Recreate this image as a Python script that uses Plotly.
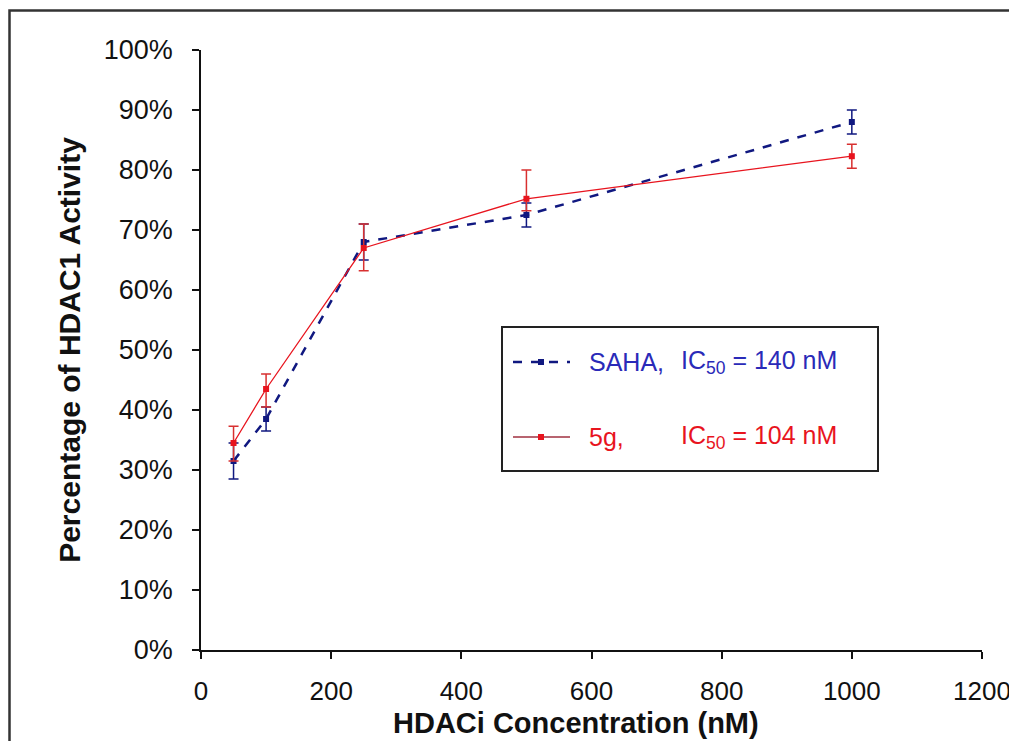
import plotly.graph_objects as go

# concentrations (nM)
conc = [50, 100, 250, 500, 1000]

# SAHA, % HDAC1 activity
saha = [31.5, 38.5, 68, 72.5, 88]
saha_err = [3, 2, 3, 2, 2]

# compound 5g
g5 = [34.5, 43.5, 67, 75.2, 82.3]
g5_err_up = [2.8, 2.5, 4, 4.8, 2]
g5_err_down = [3, 3, 3.8, 2, 2]

x_ticks = [0, 200, 400, 600, 800, 1000, 1200]
y_ticks = list(range(0, 101, 10))
y_labels = [f"{v}%" for v in y_ticks]

NAVY = "#101880"
RED = "#e8141e"
FONT = "Liberation Sans, Arial, sans-serif"

fig = go.Figure()

fig.add_trace(go.Scatter(
    x=conc, y=saha, mode="lines+markers", name="SAHA",
    line=dict(color=NAVY, width=2.5, dash="dash"),
    marker=dict(symbol="square", size=6, color=NAVY),
    error_y=dict(type="data", array=saha_err, color=NAVY, thickness=1.5, width=5),
))
fig.add_trace(go.Scatter(
    x=conc, y=g5, mode="lines+markers", name="5g",
    line=dict(color=RED, width=1.3),
    marker=dict(symbol="square", size=6, color=RED),
    error_y=dict(type="data", symmetric=False, array=g5_err_up, arrayminus=g5_err_down,
                 color="#d83030", thickness=1.5, width=5),
))


# screen pixel positions -> paper coords (plot area 201..982 x, 650..50 y on screen)
def px_x(p):
    return (p - 201) / 781


def px_y(p):
    return (650 - p) / 600


# outer frame and legend box
shapes = [
    dict(type="rect", xref="paper", yref="paper", x0=px_x(9.5), x1=px_x(1013), y0=px_y(760), y1=px_y(10.5),
         line=dict(color="#333", width=2.5), layer="below"),
    dict(type="rect", xref="paper", yref="paper", x0=px_x(502), x1=px_x(878), y0=px_y(471), y1=px_y(327),
         line=dict(color="#222", width=2), fillcolor="white"),
]

shapes.append(dict(type="line", xref="paper", yref="paper", x0=px_x(513), x1=px_x(570),
                   y0=px_y(362), y1=px_y(362), line=dict(color=NAVY, width=2.5, dash="dash")))
shapes.append(dict(type="rect", xref="paper", yref="paper", x0=px_x(538), x1=px_x(544),
                   y0=px_y(359), y1=px_y(365), line=dict(width=0), fillcolor=NAVY))
shapes.append(dict(type="line", xref="paper", yref="paper", x0=px_x(513), x1=px_x(570),
                   y0=px_y(437), y1=px_y(437), line=dict(color="#a03040", width=1.5)))
shapes.append(dict(type="rect", xref="paper", yref="paper", x0=px_x(538), x1=px_x(544),
                   y0=px_y(434), y1=px_y(440), line=dict(width=0), fillcolor=RED))

annotations = []
for txt, xpx, ypx, col in [
    ("SAHA,", 587, 362, "#2a2ab8"),
    ("IC<sub>50</sub> = 140 nM", 679, 362, "#2a2ab8"),
    ("5g,", 587, 437, RED),
    ("IC<sub>50</sub> = 104 nM", 679, 437, RED),
]:
    annotations.append(dict(x=px_x(xpx), y=px_y(ypx), xref="paper", yref="paper", text=txt,
                            showarrow=False, xanchor="left", yanchor="middle",
                            font=dict(family=FONT, size=25, color=col)))

# x axis title placed as annotation so it stays inside the window
annotations.append(dict(x=px_x(576), y=px_y(723), xref="paper", yref="paper",
                        text="<b>HDACi Concentration (nM)</b>", showarrow=False,
                        xanchor="center", yanchor="middle",
                        font=dict(family=FONT, size=29, color="#111")))

# page body has an 8px margin, so the figure is sized and offset for that
fig.update_layout(
    width=1009, height=733,
    margin=dict(l=193, r=35, t=42, b=91),
    plot_bgcolor="white", paper_bgcolor="white",
    showlegend=False,
    shapes=shapes, annotations=annotations,
    font=dict(family=FONT, color="#111"),
)
fig.update_xaxes(
    range=[0, 1200], tickvals=x_ticks, showgrid=False, zeroline=False, automargin=False,
    showline=True, linecolor="#111", linewidth=1.5,
    ticks="outside", ticklen=7, tickcolor="#111", tickwidth=1.5,
    tickfont=dict(size=26), ticklabelstandoff=10,
)
fig.update_yaxes(
    range=[0, 100], tickvals=y_ticks, ticktext=y_labels, showgrid=False, zeroline=False,
    automargin=False,
    showline=True, linecolor="#111", linewidth=1.5,
    ticks="outside", ticklen=7, tickcolor="#111", tickwidth=1.5,
    tickfont=dict(size=27), ticklabelstandoff=14,
    title=dict(text="<b>Percentage of HDAC1 Activity</b>", font=dict(size=30), standoff=14),
)

fig.write_html("out.html")
